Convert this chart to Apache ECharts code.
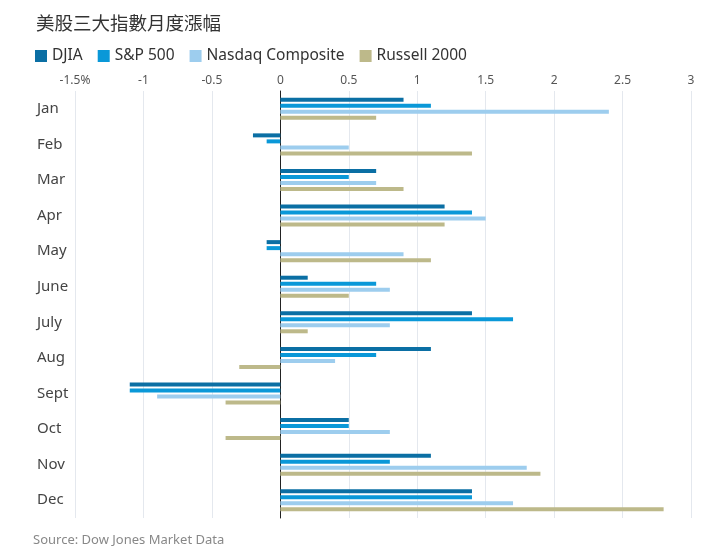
<!DOCTYPE html>
<html>
<head>
<meta charset="utf-8">
<script src="https://cdn.jsdelivr.net/npm/echarts@6/dist/echarts.min.js"></script>
<style>
html,body{margin:0;padding:0;background:#fff;}
#c{width:721px;height:557px;}
</style>
</head>
<body>
<div id="c"></div>
<script>
const months = ['Jan','Feb','Mar','Apr','May','June','July','Aug','Sept','Oct','Nov','Dec'];
const seriesNames = ['DJIA','S&P 500','Nasdaq Composite','Russell 2000'];
const djia    = [0.9, -0.2, 0.7, 1.2, -0.1, 0.2, 1.4, 1.1, -1.1, 0.5, 1.1, 1.4];
const sp500   = [1.1, -0.1, 0.5, 1.4, -0.1, 0.7, 1.7, 0.7, -1.1, 0.5, 0.8, 1.4];
const nasdaq  = [2.4, 0.5, 0.7, 1.5, 0.9, 0.8, 0.8, 0.4, -0.9, 0.8, 1.8, 1.7];
const russell = [0.7, 1.4, 0.9, 1.2, 1.1, 0.5, 0.2, -0.3, -0.4, -0.4, 1.9, 2.8];
const xMin = -1.5, xMax = 3, xStep = 0.5;

const colors = ['#0b6fa4', '#0a98d8', '#9dcdee', '#bdb98a'];
const dataSets = [djia, sp500, nasdaq, russell];
const font = '"Noto Sans", "Open Sans", sans-serif';

const chart = echarts.init(document.getElementById('c'), null, {renderer: 'canvas'});
chart.setOption({
  animation: false,
  backgroundColor: '#ffffff',
  title: {
    text: '美股三大指數月度漲幅',
    left: 31, top: 9,
    textStyle: {fontFamily: '"Noto Sans CJK TC", sans-serif', fontSize: 18.5, fontWeight: 'normal', color: '#333'}
  },
  legend: {
    data: seriesNames,
    left: 30, top: 43,
    icon: 'rect', itemWidth: 12, itemHeight: 12, itemGap: 15,
    textStyle: {fontFamily: font, fontSize: 15.5, color: '#333'}
  },
  graphic: [{
    type: 'text', left: 33, top: 534,
    style: {text: 'Source: Dow Jones Market Data', fontFamily: font, fontSize: 13, fill: '#888'}
  }],
  grid: {left: 75, right: 30, top: 91, bottom: 39, containLabel: false},
  xAxis: {
    type: 'value', position: 'top',
    min: xMin, max: xMax, interval: xStep,
    axisLine: {show: false}, axisTick: {show: false},
    splitLine: {show: true, lineStyle: {color: '#e4e8ee', width: 1}},
    axisLabel: {
      margin: 4, fontFamily: font, fontSize: 12, color: '#555',
      formatter: v => (v === xMin ? v + '%' : String(v))
    }
  },
  yAxis: {
    type: 'category', data: months, inverse: true,
    axisLine: {show: true, onZero: true, lineStyle: {color: '#222', width: 1}},
    axisTick: {show: false},
    axisLabel: {margin: 38, align: 'left', fontFamily: font, fontSize: 15, color: '#444'}
  },
  series: dataSets.map((d, i) => ({
    name: seriesNames[i], type: 'bar', data: d,
    barWidth: 4, barGap: '50%',
    itemStyle: {color: colors[i]}
  }))
});
</script>
</body>
</html>
